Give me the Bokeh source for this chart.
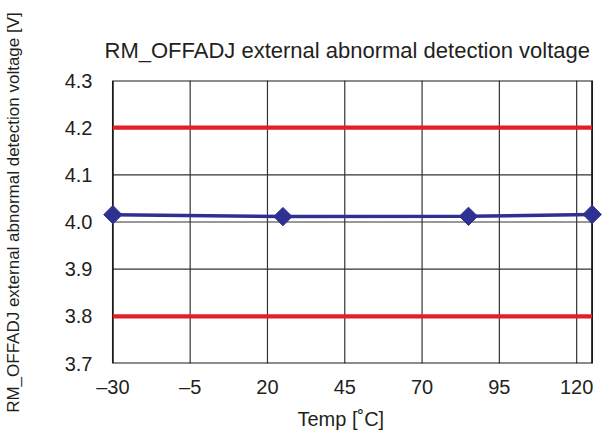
from bokeh.plotting import figure
from bokeh.models import FixedTicker, Range1d, Title
from bokeh.embed import file_html
from bokeh.resources import INLINE
import numpy as np

# data
temps = [-30, 25, 85, 125]
voltages = [4.0155, 4.0115, 4.012, 4.016]
limits = [4.2, 3.8]
x_ticks = [-30, -5, 20, 45, 70, 95, 120]
x_tick_labels = ["\u201330", "\u20135", "20", "45", "70", "95", "120"]
x_lo, x_hi = -30, 125
y_ticks = [3.7, 3.8, 3.9, 4.0, 4.1, 4.2, 4.3]
y_tick_labels = ["3.7", "3.8", "3.9", "4.0", "4.1", "4.2", "4.3"]
y_lo, y_hi = 3.7, 4.3

FONT = "Liberation Sans"
TXT = "#231f20"
GRID = "#333333"

# range slightly padded so the end markers are not clipped; the frame box is drawn explicitly
pad = 4
p = figure(width=608, height=438, output_backend="svg", toolbar_location=None,
           x_range=Range1d(x_lo - pad, x_hi + pad), y_range=Range1d(y_lo, y_hi),
           min_border_left=100, min_border_right=4, min_border_top=80, min_border_bottom=75)
p.background_fill_color = "white"
p.border_fill_color = "white"
p.outline_line_color = None
p.xgrid.grid_line_color = None
p.ygrid.grid_line_color = None

title = Title(text="RM_OFFADJ external abnormal detection voltage", align="left", offset=4,
              text_font=FONT, text_font_size="22px", text_font_style="normal",
              text_color=TXT, standoff=36)
p.add_layout(title, "above")

xlab = Title(text="Temp [\u02daC]", align="left", offset=197,
             text_font=FONT, text_font_size="20px", text_font_style="normal",
             text_color=TXT, standoff=10)
p.add_layout(xlab, "below")

# axes
p.xaxis.ticker = FixedTicker(ticks=x_ticks)
p.xaxis.major_label_overrides = {t: l for t, l in zip(x_ticks, x_tick_labels)}
p.yaxis.ticker = FixedTicker(ticks=y_ticks)
p.yaxis.major_label_overrides = {t: l for t, l in zip(y_ticks, y_tick_labels)}
for ax in (p.xaxis, p.yaxis):
    ax.axis_line_color = None
    ax.major_tick_line_color = None
    ax.minor_tick_line_color = None
    ax.major_label_text_font = FONT
    ax.major_label_text_font_size = "20px"
    ax.major_label_text_color = TXT
p.xaxis.major_label_standoff = 6
p.yaxis.major_label_standoff = 2
p.yaxis.axis_label = "\u00a0" * 4 + "RM_OFFADJ external abnormal detection voltage [V]"
p.yaxis.axis_label_text_font = FONT
p.yaxis.axis_label_text_font_size = "17px"
p.yaxis.axis_label_text_font_style = "normal"
p.yaxis.axis_label_text_color = TXT
p.yaxis.axis_label_standoff = 39

# grid lines
vx = x_ticks[1:] + [x_hi]
p.segment(x0=vx, y0=[y_lo] * len(vx), x1=vx, y1=[y_hi] * len(vx), line_color=GRID, line_width=1.2)
hy = y_ticks[1:-1]
p.segment(x0=[x_lo] * len(hy), y0=hy, x1=[x_hi] * len(hy), y1=hy, line_color=GRID, line_width=1.2)

# frame box
p.quad(left=[x_lo], right=[x_hi], bottom=[y_lo], top=[y_hi], fill_color=None,
       line_color="#1a1a1a", line_width=1.8)

# limit lines
p.segment(x0=[x_lo] * len(limits), y0=limits, x1=[x_hi] * len(limits), y1=limits,
          line_color="#e31e26", line_width=4.3)

p.line(temps, voltages, line_color="#2e3192", line_width=3.5)
p.scatter(temps, voltages, marker="square", angle=np.pi / 4, size=13,
          fill_color="#2e3192", line_color="#2e3192")

open("out.html", "w").write(file_html(p, INLINE))
